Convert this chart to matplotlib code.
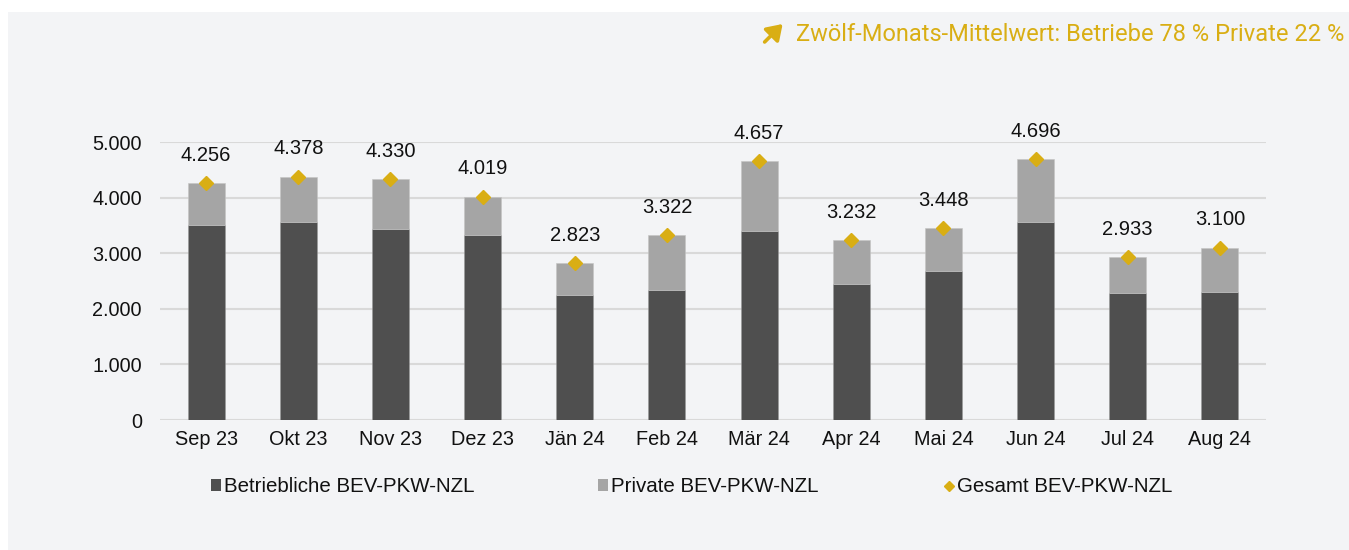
import matplotlib
matplotlib.use("Agg")
import matplotlib.pyplot as plt
from matplotlib.patches import Rectangle, Patch, FancyArrowPatch
from matplotlib.lines import Line2D
import numpy as np

# Daten
monate = ["Sep 23", "Okt 23", "Nov 23", "Dez 23", "Jän 24", "Feb 24",
          "Mär 24", "Apr 24", "Mai 24", "Jun 24", "Jul 24", "Aug 24"]
gesamt = [4256, 4378, 4330, 4019, 2823, 3322, 4657, 3232, 3448, 4696, 2933, 3100]
betrieblich = [3507, 3567, 3435, 3327, 2248, 2338, 3405, 2446, 2674, 3561, 2290, 2308]
privat = [g - b for g, b in zip(gesamt, betrieblich)]

titel = "Zwölf-Monats-Mittelwert: Betriebe 78 % Private 22 %"
legende = ["Betriebliche BEV-PKW-NZL", "Private BEV-PKW-NZL", "Gesamt BEV-PKW-NZL"]

c_dunkel = "#4f4f4f"
c_hell = "#a5a5a5"
c_gold = "#d9ae14"
c_bg = "#f3f4f6"

plt.rcParams["font.family"] = ["Liberation Sans", "DejaVu Sans"]

W, H = 1349, 550
fig = plt.figure(figsize=(W / 100, H / 100), dpi=100, facecolor="white")

# grauer Hintergrund (weisser Rand oben und links)
fig.patches.append(Rectangle((8 / W, 0), 1, 1 - 12 / H, transform=fig.transFigure,
                             facecolor=c_bg, edgecolor="none", zorder=-10))

ax = fig.add_axes([160 / W, 1 - 420 / H, (1266 - 160) / W, (420 - 142) / H])
ax.patch.set_alpha(0)

x = np.arange(len(monate))
ax.bar(x, betrieblich, width=0.4, color=c_dunkel, edgecolor="#9a9a9a", linewidth=0.4, zorder=3)
ax.bar(x, privat, width=0.4, bottom=betrieblich, color=c_hell, edgecolor="#c4c4c4",
       linewidth=0.4, zorder=3)
ax.plot(x, gesamt, linestyle="none", marker="D", markersize=7.3, color=c_gold, zorder=4)

for xi, g in zip(x, gesamt):
    ax.annotate(f"{g:,}".replace(",", "."), (xi, g), xytext=(0, 20),
                textcoords="offset points", ha="center", va="center",
                fontsize=14.5, color="#111111")

ax.set_xlim(-0.5, len(monate) - 0.5)
ax.set_ylim(0, 5000)
ax.set_yticks(range(0, 5001, 1000))
ax.set_yticklabels([f"{v:,}".replace(",", ".") for v in range(0, 5001, 1000)])
ax.set_xticks(x)
ax.set_xticklabels(monate)
ax.tick_params(axis="both", length=0, labelsize=14.3, colors="#111111")
ax.tick_params(axis="y", pad=13)
ax.tick_params(axis="x", pad=7)
ax.grid(axis="y", color="#d9d9d9", linewidth=1.5, zorder=0)
ax.set_axisbelow(True)
for s in ax.spines.values():
    s.set_visible(False)

# Titel oben rechts mit Pfeil
t = fig.text(1344 / W, 1 - 41 / H, titel, ha="right", va="baseline", fontsize=17,
             color=c_gold, family="Roboto")
fig.canvas.draw()
bb = t.get_window_extent()
x0 = bb.x0 - 31
fig.patches.append(FancyArrowPatch((x0, H - 42), (x0 + 18, H - 24), transform=None,
                                   arrowstyle="-|>,head_length=0.9,head_width=0.6",
                                   mutation_scale=10, linewidth=2.6, color=c_gold,
                                   shrinkA=0, shrinkB=0))

# Legende
handles = [Patch(facecolor=c_dunkel, edgecolor="none"),
           Patch(facecolor=c_hell, edgecolor="none"),
           Line2D([], [], linestyle="none", marker="D", markersize=5.5, color=c_gold)]
positions = [211, 598, 944]
for h, lab, px in zip(handles, legende, positions):
    leg = fig.legend([h], [lab], loc="center left", bbox_to_anchor=(px / W, 1 - 487 / H),
                     frameon=False, fontsize=14.8, handlelength=0.5, handleheight=0.5,
                     handletextpad=0.15, borderpad=0, borderaxespad=0)
    for tx in leg.get_texts():
        tx.set_color("#111111")

fig.savefig("out.png", dpi=100, facecolor="white")
